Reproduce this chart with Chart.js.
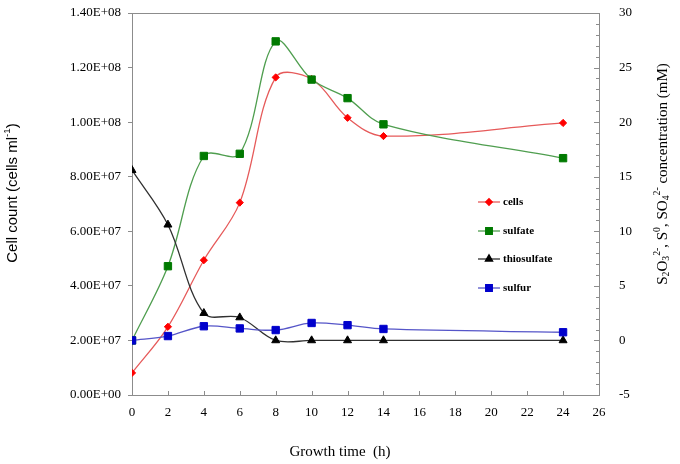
<!DOCTYPE html>
<html>
<head>
<meta charset="utf-8">
<script src="https://cdn.jsdelivr.net/npm/chart.js@4.4.0/dist/chart.umd.min.js"></script>
<style>
  html, body { margin: 0; padding: 0; background: #fff; }
  #wrap { width: 680px; height: 464px; }
</style>
</head>
<body>
<div id="wrap"><canvas id="chart" width="680" height="464"></canvas></div>
<script>
// values
const times = [0, 2, 4, 6, 8, 10, 12, 14, 24];
const cells = [8.1e6, 2.5e7, 4.94e7, 7.05e7, 1.164e8, 1.158e8, 1.016e8, 9.49e7, 9.97e7];
const sulfate = [0, 6.8, 16.9, 17.1, 27.4, 23.9, 22.2, 19.8, 16.7];
const thiosulfate = [15.6, 10.6, 2.5, 2.1, 0, 0, 0, 0, 0];
const sulfur = [0, 0.4, 1.3, 1.1, 0.95, 1.6, 1.4, 1.05, 0.75];

const seriesNames = ['cells', 'sulfate', 'thiosulfate', 'sulfur'];
const xTicks = [0, 2, 4, 6, 8, 10, 12, 14, 16, 18, 20, 22, 24, 26];
const leftTicks = [0, 2e7, 4e7, 6e7, 8e7, 1e8, 1.2e8, 1.4e8];
const rightTicks = [-5, 0, 5, 10, 15, 20, 25, 30];

const serif = "'Liberation Serif', 'DejaVu Serif', serif";
const sans = "'Liberation Sans', 'DejaVu Sans', sans-serif";
const axisGray = '#8c8c8c';

function sci(v) {
  if (v === 0) return '0.00E+00';
  const e = Math.floor(Math.log10(v));
  const m = v / Math.pow(10, e);
  return m.toFixed(2) + 'E+' + String(e).padStart(2, '0');
}

function pts(ys) {
  return times.map((t, i) => ({ x: t, y: ys[i] }));
}

const styles = [
  { line: '#e65a5a', fill: '#ff0000', point: 'rectRot', r: 3.6, axis: 'yL', data: cells },
  { line: '#4f9e4f', fill: '#007a00', point: 'rect', r: 5.2, axis: 'yR', data: sulfate },
  { line: '#303030', fill: '#000000', point: 'triangle', r: 4.6, axis: 'yR', data: thiosulfate },
  { line: '#5555c8', fill: '#0000cc', point: 'rect', r: 5.2, axis: 'yR', data: sulfur },
];

const datasets = styles.map((s, i) => ({
  label: seriesNames[i],
  data: pts(s.data),
  yAxisID: s.axis,
  borderColor: s.line,
  borderWidth: 1.3,
  backgroundColor: s.fill,
  pointBackgroundColor: s.fill,
  pointBorderColor: s.fill,
  pointBorderWidth: 1,
  pointStyle: s.point,
  pointRadius: s.r,
  tension: 0.35,
  fill: false,
  order: 4 - i,
}));

// draws text runs with sub/superscripts, centred on x
function drawRich(ctx, parts, x, y, size, family) {
  let total = 0;
  parts.forEach((p) => {
    ctx.font = (p.s ? size * 0.65 : size) + 'px ' + family;
    total += ctx.measureText(p.t).width;
  });
  let cx = x - total / 2;
  parts.forEach((p) => {
    ctx.font = (p.s ? size * 0.65 : size) + 'px ' + family;
    let dy = 0;
    if (p.s === 'sub') dy = size * 0.25;
    if (p.s === 'sup') dy = -size * 0.38;
    ctx.fillText(p.t, cx, y + dy);
    cx += ctx.measureText(p.t).width;
  });
}

const decorations = {
  id: 'decorations',
  afterDraw(chart) {
    const ctx = chart.ctx;
    const a = chart.chartArea;
    const x = chart.scales.x;
    const yR = chart.scales.yR;
    ctx.save();
    ctx.strokeStyle = axisGray;
    ctx.lineWidth = 1;
    // top frame line
    ctx.beginPath();
    ctx.moveTo(a.left, a.top + 0.5);
    ctx.lineTo(a.right, a.top + 0.5);
    ctx.stroke();
    // inward ticks on the x axis
    ctx.beginPath();
    xTicks.forEach((v) => {
      const px = Math.round(x.getPixelForValue(v)) + 0.5;
      ctx.moveTo(px, a.bottom);
      ctx.lineTo(px, a.bottom - 4);
    });
    // inward major and minor ticks on the right axis
    for (let v = -5; v <= 30; v++) {
      const py = Math.round(yR.getPixelForValue(v)) + 0.5;
      const len = v % 5 === 0 ? 5 : 3;
      ctx.moveTo(a.right, py);
      ctx.lineTo(a.right - len, py);
    }
    ctx.stroke();

    // legend inside the plot
    const rows = [202, 231, 259, 288];
    styles.forEach((s, i) => {
      const ly = rows[i];
      ctx.strokeStyle = s.line;
      ctx.lineWidth = 1.3;
      ctx.beginPath();
      ctx.moveTo(478, ly);
      ctx.lineTo(500, ly);
      ctx.stroke();
      ctx.fillStyle = s.fill;
      ctx.strokeStyle = s.fill;
      Chart.helpers.drawPoint(ctx, { pointStyle: s.point, radius: s.r * 0.9, rotation: 0, borderWidth: 1 }, 489, ly);
      ctx.fillStyle = '#000';
      ctx.font = 'bold 11px ' + serif;
      ctx.textAlign = 'left';
      ctx.textBaseline = 'middle';
      ctx.fillText(seriesNames[i], 503, ly + 0.5);
    });

    // axis titles
    ctx.fillStyle = '#000';
    ctx.textAlign = 'left';
    ctx.textBaseline = 'middle';
    drawRich(ctx, [{ t: 'Growth time  (h)' }], 340, 452, 15, serif);

    ctx.save();
    ctx.translate(13, 193);
    ctx.rotate(-Math.PI / 2);
    drawRich(ctx, [{ t: 'Cell count (cells ml' }, { t: '-1', s: 'sup' }, { t: ')' }], 0, 0, 15, sans);
    ctx.restore();

    ctx.save();
    ctx.translate(663, 174);
    ctx.rotate(-Math.PI / 2);
    drawRich(ctx, [
      { t: 'S' }, { t: '2', s: 'sub' }, { t: 'O' }, { t: '3', s: 'sub' }, { t: '2-', s: 'sup' },
      { t: ', S' }, { t: '0', s: 'sup' }, { t: ', SO' }, { t: '4', s: 'sub' }, { t: '2-', s: 'sup' },
      { t: ' concentration (mM)' },
    ], 0, 0, 15, serif);
    ctx.restore();
    ctx.restore();
  },
};

function noPadY(s, w) {
  s.width = w;
  s.paddingTop = 0;
  s.paddingBottom = 0;
}

const config = {
  type: 'line',
  data: { datasets: datasets },
  options: {
    responsive: false,
    animation: false,
    devicePixelRatio: 1,
    layout: { padding: { top: 13, left: 0, right: 0, bottom: 0 } },
    plugins: {
      legend: { display: false },
      tooltip: { enabled: false },
    },
    scales: {
      x: {
        type: 'linear',
        min: 0,
        max: 26,
        afterBuildTicks: (s) => { s.ticks = xTicks.map((v) => ({ value: v })); },
        afterFit: (s) => { s.height = 69; s.paddingLeft = 0; s.paddingRight = 0; },
        grid: { display: false },
        border: { color: axisGray, width: 1 },
        ticks: { color: '#000', font: { family: serif, size: 13 }, padding: 2, maxRotation: 0 },
      },
      yL: {
        type: 'linear',
        position: 'left',
        min: 0,
        max: 1.4e8,
        afterBuildTicks: (s) => { s.ticks = leftTicks.map((v) => ({ value: v })); },
        afterFit: (s) => noPadY(s, 132),
        grid: { drawOnChartArea: false, tickLength: 4, color: axisGray },
        border: { color: axisGray, width: 1 },
        ticks: { color: '#000', font: { family: serif, size: 13 }, padding: 7, callback: (v) => sci(v) },
      },
      yR: {
        type: 'linear',
        position: 'right',
        min: -5,
        max: 30,
        afterBuildTicks: (s) => { s.ticks = rightTicks.map((v) => ({ value: v })); },
        afterFit: (s) => noPadY(s, 81),
        grid: { display: false },
        border: { color: axisGray, width: 1 },
        ticks: { color: '#000', font: { family: serif, size: 13 }, padding: 12 },
      },
    },
  },
  plugins: [decorations],
};

const ctx = document.getElementById('chart');
new Chart(ctx, config);
</script>
</body>
</html>
